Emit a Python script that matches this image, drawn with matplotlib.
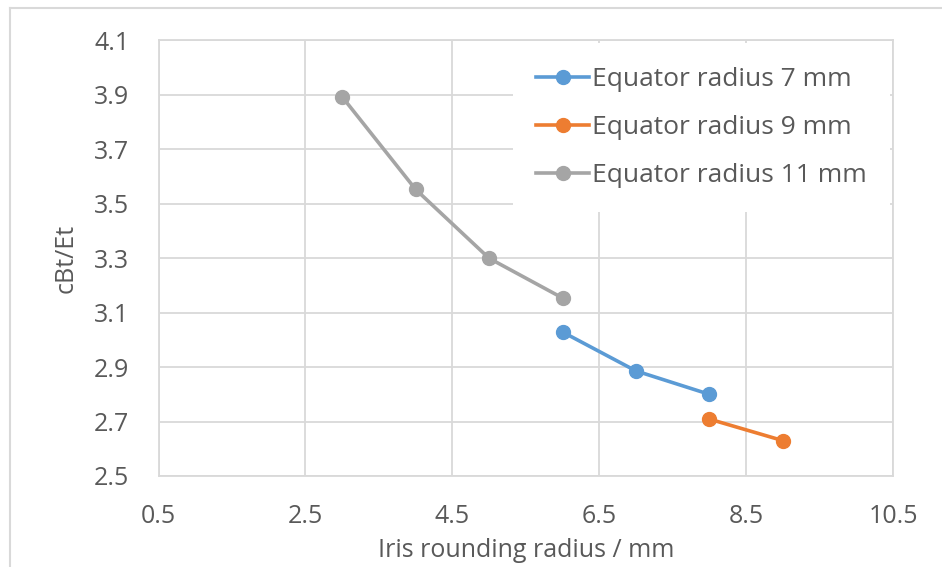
import matplotlib.pyplot as plt
from matplotlib.lines import Line2D

plt.rcParams['font.family'] = ['Open Sans', 'DejaVu Sans']

# data
x_7 = [6, 7, 8]
y_7 = [3.029, 2.886, 2.80]
x_9 = [8, 9]
y_9 = [2.709, 2.63]
x_11 = [3, 4, 5, 6]
y_11 = [3.893, 3.553, 3.30, 3.154]

xticks = [0.5, 2.5, 4.5, 6.5, 8.5, 10.5]
yticks = [2.5, 2.7, 2.9, 3.1, 3.3, 3.5, 3.7, 3.9, 4.1]

grid_c = '#d9d9d9'
text_c = '#595959'
fs = 18

fig = plt.figure(figsize=(9.42, 5.67), dpi=100)
ax = fig.add_axes([0.1683, 0.1605, 0.7797, 0.7681])

ax.plot(x_7, y_7, color='#5B9BD5', lw=2.6, marker='o', ms=10, label='Equator radius 7 mm', zorder=3)
ax.plot(x_9, y_9, color='#ED7D31', lw=2.6, marker='o', ms=10, label='Equator radius 9 mm', zorder=3)
ax.plot(x_11, y_11, color='#A5A5A5', lw=2.6, marker='o', ms=10, label='Equator radius 11 mm', zorder=3)

ax.set_xlim(0.5, 10.5)
ax.set_ylim(2.5, 4.1)
ax.set_xticks(xticks)
ax.set_yticks(yticks)
ax.set_xticklabels([str(v) for v in xticks])
ax.set_yticklabels([str(v) for v in yticks])
ax.grid(True, color=grid_c, lw=1.3)
ax.set_axisbelow(True)
for s in ax.spines.values():
    s.set_color(grid_c)
    s.set_linewidth(1.3)
ax.tick_params(length=0, labelsize=fs, colors=text_c)
ax.tick_params(axis='y', pad=21)
ax.tick_params(axis='x', pad=20)

ax.set_xlabel('Iris rounding radius / mm', fontsize=fs, color=text_c, labelpad=7)
ax.set_ylabel('cBt/Et', fontsize=fs, color=text_c, labelpad=11)

leg = ax.legend(loc='upper right', bbox_to_anchor=(1, 1), fontsize=fs + 1,
                frameon=True, fancybox=False,
                handlelength=2.0, handletextpad=0.1, labelspacing=0.88,
                borderaxespad=0.1, borderpad=0.9, labelcolor=text_c)
leg.get_frame().set_edgecolor('none')
leg.get_frame().set_facecolor('white')
leg.get_frame().set_alpha(1)

# chart area border lines (left and top)
fig.add_artist(Line2D([10 / 942, 10 / 942], [0, 1 - 8 / 567], color=grid_c, lw=1.5))
fig.add_artist(Line2D([10 / 942, 1], [1 - 8 / 567, 1 - 8 / 567], color=grid_c, lw=1.5))

fig.savefig('out.png', dpi=100)
